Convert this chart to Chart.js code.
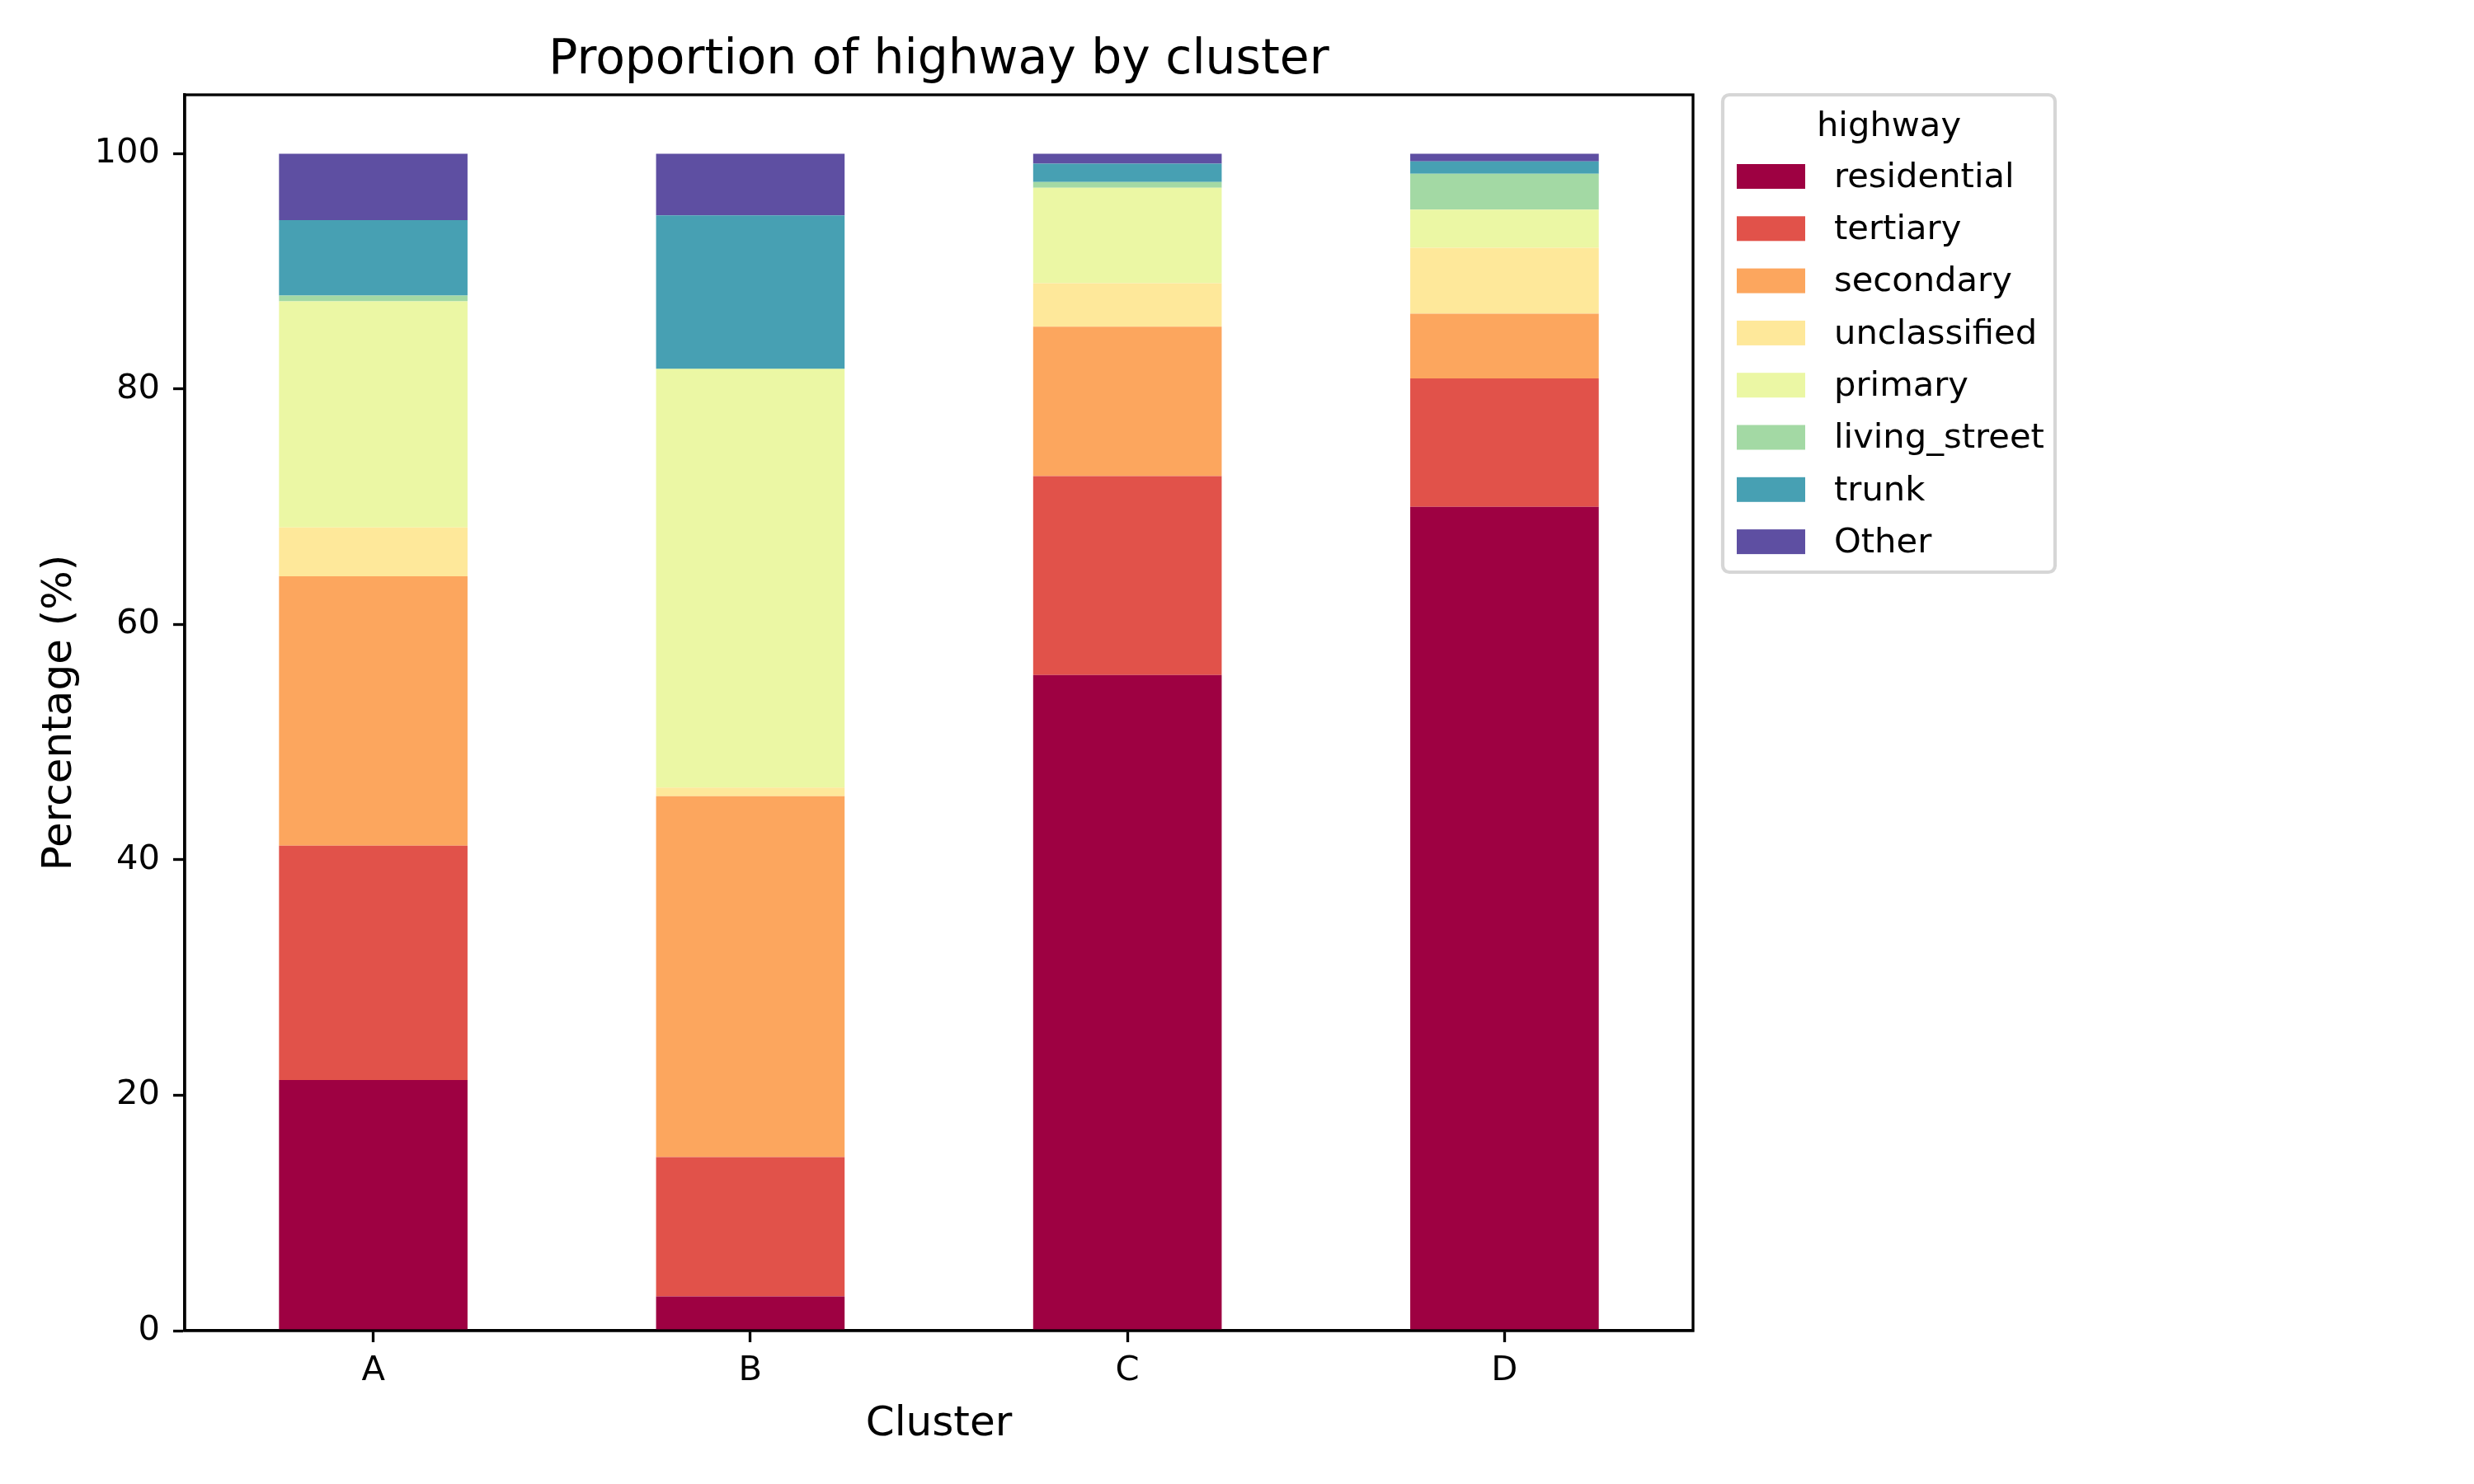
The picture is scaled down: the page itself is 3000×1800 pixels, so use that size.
<!DOCTYPE html>
<html>
<head>
<meta charset="utf-8">
<script src="https://cdn.jsdelivr.net/npm/chart.js@4.4.1/dist/chart.umd.min.js"></script>
<style>
  html, body { margin: 0; padding: 0; background: #ffffff; overflow: hidden; }
  canvas { display: block; }
</style>
</head>
<body>
<canvas id="highwayChart" width="3000" height="1800"></canvas>
<script>
// Data (percent of each cluster)
const clusters = ['A', 'B', 'C', 'D'];
const seriesNames = ['residential', 'tertiary', 'secondary', 'unclassified', 'primary', 'living_street', 'trunk', 'Other'];
const residential  = [21.3, 2.9, 55.7, 70.0];
const tertiary     = [19.9, 11.85, 16.9, 10.9];
const secondary    = [22.9, 30.65, 12.7, 5.5];
const unclassified = [4.15, 0.75, 3.7, 5.6];
const primary      = [19.2, 35.55, 8.1, 3.25];
const livingStreet = [0.5, 0.05, 0.5, 3.05];
const trunk        = [6.4, 13.0, 1.55, 1.05];
const other        = [5.65, 5.25, 0.85, 0.65];
const yTicks = [0, 20, 40, 60, 80, 100];

const seriesValues = [residential, tertiary, secondary, unclassified, primary, livingStreet, trunk, other];
const seriesColors = ['#9e0142', '#e1524a', '#fca65e', '#fee89a', '#ebf7a4', '#a3d9a4', '#47a0b3', '#5e4fa2'];

const FONT = '"DejaVu Sans", sans-serif';
const PT = 300 / 72; // figure drawn at 300 dpi

// axes frame (top / right spines too)
const framePlugin = {
    id: 'frame',
    afterDatasetsDraw(chart) {
        const a = chart.chartArea;
        const ctx = chart.ctx;
        ctx.save();
        ctx.strokeStyle = '#000';
        ctx.lineWidth = 0.8 * PT;
        ctx.strokeRect(a.left, a.top, a.right - a.left, a.bottom - a.top);
        ctx.restore();
    }
};

// matplotlib-style legend outside the axes, upper left
const legendPlugin = {
    id: 'mplLegend',
    afterDraw(chart) {
        const a = chart.chartArea;
        const ctx = chart.ctx;
        const fs = 10 * PT;
        const left = a.right + 36;
        const top = a.top;
        const w = 403;
        const h = 579;
        ctx.save();
        ctx.fillStyle = 'rgba(255,255,255,0.8)';
        ctx.strokeStyle = 'rgba(204,204,204,0.8)';
        ctx.lineWidth = PT;
        ctx.beginPath();
        ctx.roundRect(left, top, w, h, 8);
        ctx.fill();
        ctx.stroke();

        ctx.fillStyle = '#000';
        ctx.font = fs + 'px ' + FONT;
        ctx.textAlign = 'center';
        ctx.textBaseline = 'alphabetic';
        ctx.fillText('highway', left + w / 2, top + 50);

        ctx.textAlign = 'left';
        ctx.textBaseline = 'middle';
        chart.data.datasets.forEach((ds, i) => {
            const cy = top + 99 + i * 63.3;
            ctx.fillStyle = ds.backgroundColor;
            ctx.fillRect(left + 17, cy - 15, 83, 30);
            ctx.fillStyle = '#000';
            ctx.fillText(ds.label, left + 135, cy + 2);
        });
        ctx.restore();
    }
};

document.addEventListener('DOMContentLoaded', function() {
    const canvas = document.getElementById('highwayChart');
    const ctx = canvas.getContext('2d');

    const datasets = seriesNames.map((name, i) => ({
        label: name,
        data: seriesValues[i],
        backgroundColor: seriesColors[i],
        borderWidth: 0,
        categoryPercentage: 1.0,
        barPercentage: 0.5
    }));

    new Chart(ctx, {
        type: 'bar',
        data: { labels: clusters, datasets: datasets },
        options: {
            responsive: false,
            animation: false,
            devicePixelRatio: 1,
            layout: { padding: { left: 0, top: 0, right: 947, bottom: 0 } },
            plugins: {
                legend: { display: false },
                tooltip: { enabled: false },
                title: {
                    display: true,
                    fullSize: false,
                    text: 'Proportion of highway by cluster',
                    color: '#000',
                    font: { family: FONT, size: 14 * PT, weight: 'normal', lineHeight: 1.2 },
                    padding: { top: 39, bottom: 6 }
                }
            },
            scales: {
                x: {
                    stacked: true,
                    offset: true,
                    grid: {
                        offset: false,
                        drawOnChartArea: false,
                        drawTicks: true,
                        tickLength: 14,
                        tickWidth: 0.8 * PT,
                        tickColor: '#000'
                    },
                    border: { display: true, color: '#000', width: 0.8 * PT },
                    ticks: {
                        color: '#000',
                        padding: 10,
                        maxRotation: 0,
                        font: { family: FONT, size: 10 * PT, lineHeight: 1.2 }
                    },
                    title: {
                        display: true,
                        text: 'Cluster',
                        color: '#000',
                        font: { family: FONT, size: 12 * PT, lineHeight: 1.2 },
                        padding: { top: 0, bottom: 42 }
                    },
                    afterFit(scale) { scale.height = 186; }
                },
                y: {
                    stacked: true,
                    min: 0,
                    max: 105,
                    afterBuildTicks(scale) {
                        scale.ticks = yTicks.map(v => ({ value: v }));
                    },
                    grid: {
                        drawOnChartArea: false,
                        drawTicks: true,
                        tickLength: 14,
                        tickWidth: 0.8 * PT,
                        tickColor: '#000'
                    },
                    border: { display: true, color: '#000', width: 0.8 * PT },
                    ticks: {
                        color: '#000',
                        padding: 16,
                        font: { family: FONT, size: 10 * PT, lineHeight: 1.2 }
                    },
                    title: {
                        display: true,
                        text: 'Percentage (%)',
                        color: '#000',
                        font: { family: FONT, size: 12 * PT, lineHeight: 1.2 },
                        padding: { top: 43, bottom: 0 }
                    },
                    afterFit(scale) { scale.width = 224; }
                }
            }
        },
        plugins: [framePlugin, legendPlugin]
    });
});
</script>
</body>
</html>
